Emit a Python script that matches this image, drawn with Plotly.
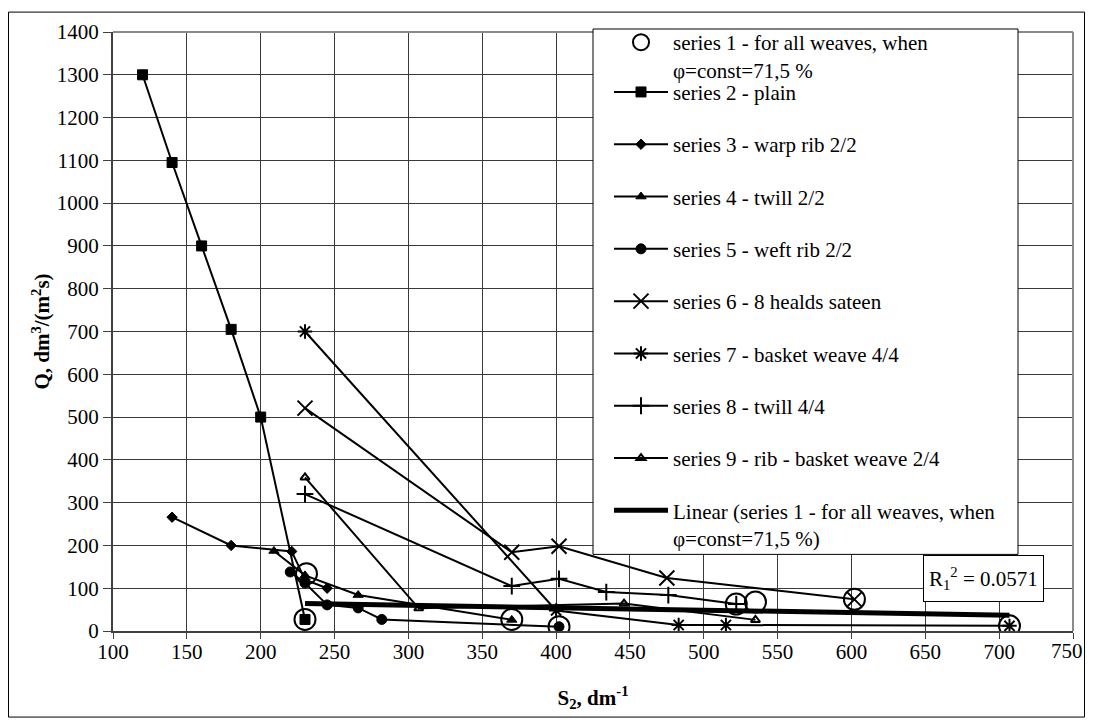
import plotly.graph_objects as go

# ---------------- data ----------------
s1_x = [231, 230, 370, 402, 522, 535, 602, 707]
s1_y = [134, 27, 27, 10, 63, 68, 74, 12]

s2_x = [120, 140, 160, 180, 200, 230]
s2_y = [1300, 1095, 900, 705, 500, 27]

s3_x = [140, 180, 221, 230, 245]
s3_y = [266, 200, 186, 120, 100]

s4_x = [209, 230, 266, 370]
s4_y = [187, 130, 84, 26]

s5_x = [220, 230, 245, 266, 282, 402]
s5_y = [138, 112, 61, 54, 27, 10]

s6_x = [230, 370, 402, 475, 602]
s6_y = [521, 184, 198, 124, 74]

s7_x = [230, 400, 483, 515, 707]
s7_y = [700, 48, 14, 14, 12]

s8_x = [230, 370, 402, 434, 476, 522]
s8_y = [320, 105, 122, 91, 84, 63]

s9_x = [230, 307, 446, 535]
s9_y = [359, 53, 64, 26]

trend_x = [230, 707]
trend_y = [64, 37]

names = [
    "series 1 - for all weaves, when<br>\u03c6=const=71,5 %",
    "series 2 - plain",
    "series 3 - warp rib 2/2",
    "series 4 - twill 2/2",
    "series 5 - weft rib 2/2",
    "series 6 - 8 healds sateen",
    "series 7 - basket weave 4/4",
    "series 8 - twill 4/4",
    "series 9 - rib - basket weave 2/4",
    "Linear (series 1 - for all weaves, when<br>\u03c6=const=71,5 %)",
]
r2_text = "R<sub>1</sub><sup>2</sup> = 0.0571"

x_ticks = list(range(100, 751, 50))
y_ticks = list(range(0, 1401, 100))

# ---------------- geometry (reference pixels; the page adds an 8px body margin) ----------------
OFF = 8
W, H = 1093 - 2 * OFF, 726 - 2 * OFF   # figure fits the window without overflow
L, R, T, B = 113, 1073, 29, 631        # plot area in reference/page pixels


def px(x):
    return (x - L) / (R - L)


def py(y):
    return (B - y) / (B - T)


FONT = "Liberation Serif"
FS = 21

fig = go.Figure()

series = [
    (s2_x, s2_y, "square", 10, 1, 1),
    (s3_x, s3_y, "diamond", 8, 1, 2),
    (s4_x, s4_y, "triangle-up", 9, 1, 3),
    (s5_x, s5_y, "circle", 10, 1, 4),
    (s6_x, s6_y, "x-thin-open", 15, 2, 5),
    (s7_x, s7_y, "asterisk-open", 12, 2, 6),
    (s8_x, s8_y, "cross-thin-open", 12, 2, 7),
    (s9_x, s9_y, "triangle-up-open", 8, 2, 8),
]

fig.add_trace(go.Scatter(
    x=trend_x, y=trend_y, mode="lines", name=names[9],
    line=dict(color="black", width=5),
    legend="legend2", legendgroup="g9", legendrank=1009,
))

for xs, ys, sym, size, lw, idx in series:
    fig.add_trace(go.Scatter(
        x=xs, y=ys, mode="lines+markers", name=names[idx],
        line=dict(color="black", width=2),
        marker=dict(symbol=sym, size=size, color="black",
                    line=dict(color="black", width=lw)),
        legend="legend2", legendgroup="g%d" % idx, legendrank=1000 + idx,
    ))

fig.add_trace(go.Scatter(
    x=s1_x, y=s1_y, mode="markers", name=names[0],
    marker=dict(symbol="circle-open", size=21, color="black",
                line=dict(color="black", width=2)),
    legend="legend", legendgroup="g0",
))

axis_common = dict(
    showgrid=True, gridcolor="#3a3a3a", gridwidth=1,
    showline=True, linecolor="#404040", linewidth=2,
    ticks="outside", tickcolor="#404040", tickwidth=1,
    zeroline=False,
    tickfont=dict(family=FONT, size=FS, color="black"),
)

# the last x label sits on the right edge of the window: it is written as an
# annotation so that it does not push the plot margins
x_ticktext = [str(v) for v in x_ticks[:-1]] + [""]

fig.update_xaxes(
    range=[100, 750], tickvals=x_ticks, ticktext=x_ticktext, ticklen=6,
    ticklabelstandoff=-5,
    title=dict(text="<b>S<sub>2</sub>, dm<sup>-1</sup></b>",
               font=dict(family=FONT, size=FS, color="black"), standoff=27),
    **axis_common,
)
fig.update_yaxes(
    range=[0, 1400], tickvals=y_ticks, ticklen=8,
    title=dict(text="<b>Q, dm<sup>3</sup>/(m<sup>2</sup>s)</b>",
               font=dict(family=FONT, size=FS, color="black"), standoff=1),
    **axis_common,
)

legend_common = dict(
    xanchor="left", yanchor="top",
    bgcolor="rgba(0,0,0,0)", borderwidth=0,
    font=dict(family=FONT, size=FS, color="black"),
    valign="top", itemwidth=54, tracegroupgap=22,
    traceorder="grouped",
)

fig.update_layout(
    width=W, height=H, autosize=False,
    margin=dict(l=L - OFF, r=W - (R - OFF), t=T - OFF, b=H - (B - OFF)),
    paper_bgcolor="white", plot_bgcolor="white",
    font=dict(family=FONT, size=FS, color="black"),
    showlegend=True,
    legend=dict(x=px(609), y=py(19), **legend_common),
    legend2=dict(x=px(609), y=py(69), **legend_common),
    shapes=[
        # plot-area border top and right (grey)
        dict(type="line", xref="paper", yref="paper", x0=0, x1=1, y0=1, y1=1,
             line=dict(color="#8a8a8a", width=2), layer="above"),
        dict(type="line", xref="paper", yref="paper", x0=1, x1=1, y0=0, y1=1,
             line=dict(color="#8a8a8a", width=2), layer="above"),
        # legend box
        dict(type="rect", xref="paper", yref="paper",
             x0=px(593), x1=px(1018), y0=py(554), y1=py(26),
             fillcolor="white", line=dict(color="black", width=1), layer="above"),
        # outer chart border
        dict(type="rect", xref="paper", yref="paper",
             x0=px(8.5), x1=px(1084.5), y0=py(717.5), y1=py(9),
             fillcolor="rgba(0,0,0,0)", line=dict(color="black", width=1), layer="above"),
    ],
    annotations=[
        dict(text=r2_text, xref="paper", yref="paper",
             x=px(983), y=py(578.5), xanchor="center", yanchor="middle",
             showarrow=False, font=dict(family=FONT, size=FS, color="black"),
             height=35, bgcolor="white", bordercolor="black", borderwidth=1, borderpad=5),
        dict(text=str(x_ticks[-1]), xref="x", yref="paper",
             x=x_ticks[-1], y=py(651), xanchor="center", yanchor="middle",
             xshift=-6, showarrow=False,
             font=dict(family=FONT, size=FS, color="black")),
    ],
)

fig.write_html("out.html")
